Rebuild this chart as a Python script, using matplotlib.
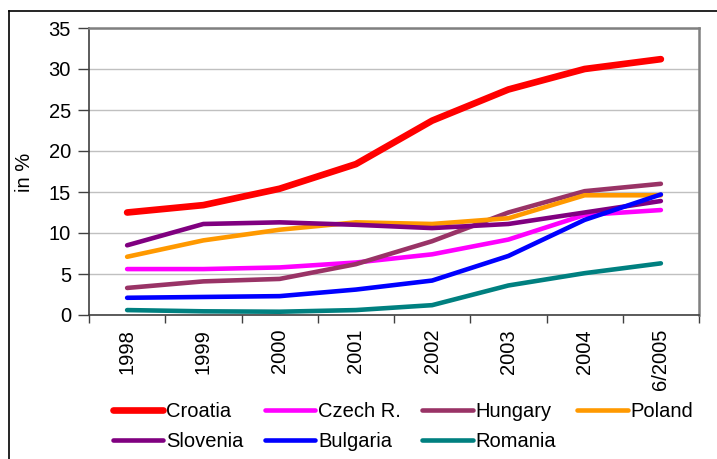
import numpy as np
import matplotlib.pyplot as plt
from matplotlib.lines import Line2D

plt.rcParams['font.family'] = ['Liberation Sans', 'DejaVu Sans']

# categorias e séries (em %)
anos = ['1998', '1999', '2000', '2001', '2002', '2003', '2004', '6/2005']
croatia = [12.5, 13.4, 15.4, 18.4, 23.7, 27.5, 30.0, 31.2]
czech = [5.6, 5.6, 5.8, 6.4, 7.4, 9.2, 12.2, 12.8]
hungary = [3.3, 4.1, 4.4, 6.2, 9.0, 12.5, 15.1, 16.0]
poland = [7.1, 9.1, 10.4, 11.3, 11.1, 11.8, 14.6, 14.6]
slovenia = [8.5, 11.1, 11.3, 11.0, 10.6, 11.1, 12.5, 13.9]
bulgaria = [2.1, 2.2, 2.3, 3.1, 4.2, 7.2, 11.6, 14.7]
romania = [0.6, 0.45, 0.4, 0.6, 1.2, 3.6, 5.1, 6.3]

series = [
    ('Croatia', croatia, '#FF0000', 4.8),
    ('Czech R.', czech, '#FF00FF', 3.3),
    ('Hungary', hungary, '#993366', 3.3),
    ('Poland', poland, '#FF9900', 3.3),
    ('Slovenia', slovenia, '#800080', 3.3),
    ('Bulgaria', bulgaria, '#0000FF', 3.3),
    ('Romania', romania, '#008080', 3.3),
]

FS = 14.5
W, H = 717, 459
fig = plt.figure(figsize=(W / 100, H / 100), dpi=100)
ax = fig.add_axes([89 / W, 1 - 315 / H, (699 - 89) / W, (315 - 28) / H])

x = np.arange(len(anos))
handles = {}
for nome, vals, cor, lw in series:
    ax.plot(x, vals, color=cor, linewidth=lw, solid_capstyle='round', solid_joinstyle='round', zorder=3)
    handles[nome] = Line2D([0], [0], color=cor, linewidth=lw, solid_capstyle='round')

ax.set_xlim(-0.5, len(anos) - 0.5)
ax.set_ylim(0, 35)
ax.set_yticks(range(0, 36, 5))
ax.set_xticks(x)
ax.set_xticklabels(anos, rotation=90, va='top')
ax.set_xticks(np.arange(-0.5, len(anos), 1), minor=True)
ax.tick_params(axis='x', which='major', length=0, pad=10, labelsize=FS)
ax.tick_params(axis='x', which='minor', length=6, width=1, direction='out', color='#404040')
ax.tick_params(axis='y', length=8, width=1, direction='out', labelsize=FS, pad=5, color='#404040')
ax.yaxis.grid(True, color='#C0C0C0', linewidth=1)
ax.set_axisbelow(True)

for lado in ['top', 'right']:
    ax.spines[lado].set_color('#808080')
    ax.spines[lado].set_linewidth(1.8)
for lado in ['left', 'bottom']:
    ax.spines[lado].set_color('#404040')
    ax.spines[lado].set_linewidth(1.2)

fig.text(25 / W, 1 - 172 / H, 'in %', rotation=90, ha='center', va='center', fontsize=FS)

# legenda preenchida por linhas (matplotlib preenche por colunas)
ordem = ['Croatia', 'Slovenia', 'Czech R.', 'Bulgaria', 'Hungary', 'Romania', 'Poland']
fig.legend([handles[n] for n in ordem], ordem, ncol=4, loc='upper left',
           bbox_to_anchor=(113 / W, 1 - 402 / H), frameon=False, fontsize=FS,
           handlelength=2.5, handletextpad=0.15, columnspacing=1.05,
           labelspacing=0.55, borderaxespad=0, borderpad=0)

# moldura externa
fig.add_artist(Line2D([9 / W, 1], [1 - 11 / H, 1 - 11 / H], color='black', linewidth=1.2))
fig.add_artist(Line2D([9 / W, 9 / W], [1 - 11 / H, 0], color='black', linewidth=1.2))

fig.savefig('out.png', dpi=100)
